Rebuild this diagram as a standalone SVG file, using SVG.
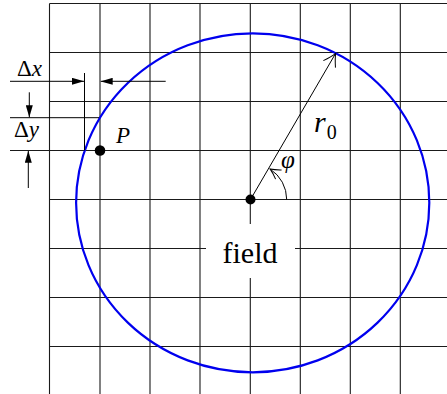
<svg xmlns="http://www.w3.org/2000/svg" width="447" height="394" viewBox="0 0 447 394">
<style>
.grid{stroke:#1a1a1a;stroke-width:1.1;fill:none}
.thin{stroke:#000;stroke-width:1;fill:none}
.it{font-style:italic}
</style>
<defs>
<marker id="fa" viewBox="0 0 12 7" refX="12" refY="3.5" markerWidth="12" markerHeight="7" markerUnits="userSpaceOnUse" orient="auto">
<path d="M0,0 L12,3.5 L0,7 z" fill="#000"/>
</marker>
<marker id="oa" viewBox="-14 -9 15 18" refX="0" refY="0" markerWidth="15" markerHeight="18" markerUnits="userSpaceOnUse" orient="auto">
<path d="M-12.5,-7 Q-5,-2 0,0 Q-5,2 -12.5,7" fill="none" stroke="#000" stroke-width="1"/>
</marker>
<marker id="oa2" viewBox="-12 -7 13 14" refX="0" refY="0" markerWidth="13" markerHeight="14" markerUnits="userSpaceOnUse" orient="auto">
<path d="M-10,-5.5 Q-4,-1.5 0,0 Q-4,1.5 -10,5.5" fill="none" stroke="#000" stroke-width="1"/>
</marker>
</defs>
<rect width="447" height="394" fill="#fff"/>
<g id="grid">
<path class="grid" d="M49.5,3.5H447 M49.5,52.5H447 M49.5,101.5H447 M10,150.5H447 M49.5,199.5H447 M49.5,248.5H206 M295,248.5H447 M49.5,297.5H447 M49.5,346.5H447"/>
<path class="grid" d="M49.5,3.5V394 M100,3.5V394 M150,3.5V394 M200,3.5V394 M250.3,3.5V224 M250.3,278V394 M300.3,3.5V394 M350.3,3.5V394 M400.3,3.5V394"/>
</g>
<g id="field-circle">
<ellipse cx="252.7" cy="202.8" rx="176.6" ry="169.5" fill="none" stroke="#0000ee" stroke-width="2.2"/>
</g>
<g id="connectors">
<line class="thin" x1="250.5" y1="199.5" x2="335.7" y2="53.3" marker-end="url(#oa)"/>
<path class="thin" d="M286.7,199.5 A36.2,36.2 0 0 0 270.2,169.1" marker-end="url(#oa2)"/>
<line class="thin" x1="10" y1="81.3" x2="84" y2="81.3" marker-end="url(#fa)"/>
<line class="thin" x1="165.7" y1="81.3" x2="100.7" y2="81.3" marker-end="url(#fa)"/>
<line class="thin" x1="84.5" y1="73" x2="84.5" y2="150.5"/>
<line class="thin" x1="10" y1="117.7" x2="99" y2="117.7"/>
<line class="thin" x1="29.3" y1="92.3" x2="29.3" y2="117.3" marker-end="url(#fa)"/>
<line class="thin" x1="28.3" y1="188" x2="28.3" y2="150.8" marker-end="url(#fa)"/>
</g>
<g id="center">
<circle cx="250.5" cy="199.5" r="5" fill="#000"/>
</g>
<g font-family='"Liberation Serif", "DejaVu Serif", "Times New Roman", Times, serif' fill="#000">
<g id="point-P">
<circle cx="100" cy="150.5" r="5.3" fill="#000"/>
<text class="it" x="116" y="142.5" font-size="23">P</text>
</g>
<g id="labels">
<text x="17" y="75.5" font-size="23">Δ<tspan class="it">x</tspan></text>
<text x="14" y="137.3" font-size="23">Δ<tspan class="it">y</tspan></text>
<text class="it" x="314" y="131.7" font-size="30">r<tspan font-style="normal" font-size="20" dx="1" dy="7">0</tspan></text>
<text class="it" x="281" y="168" font-size="25">φ</text>
<text x="250" y="262.7" font-size="30" text-anchor="middle">field</text>
</g>
</g>
</svg>
